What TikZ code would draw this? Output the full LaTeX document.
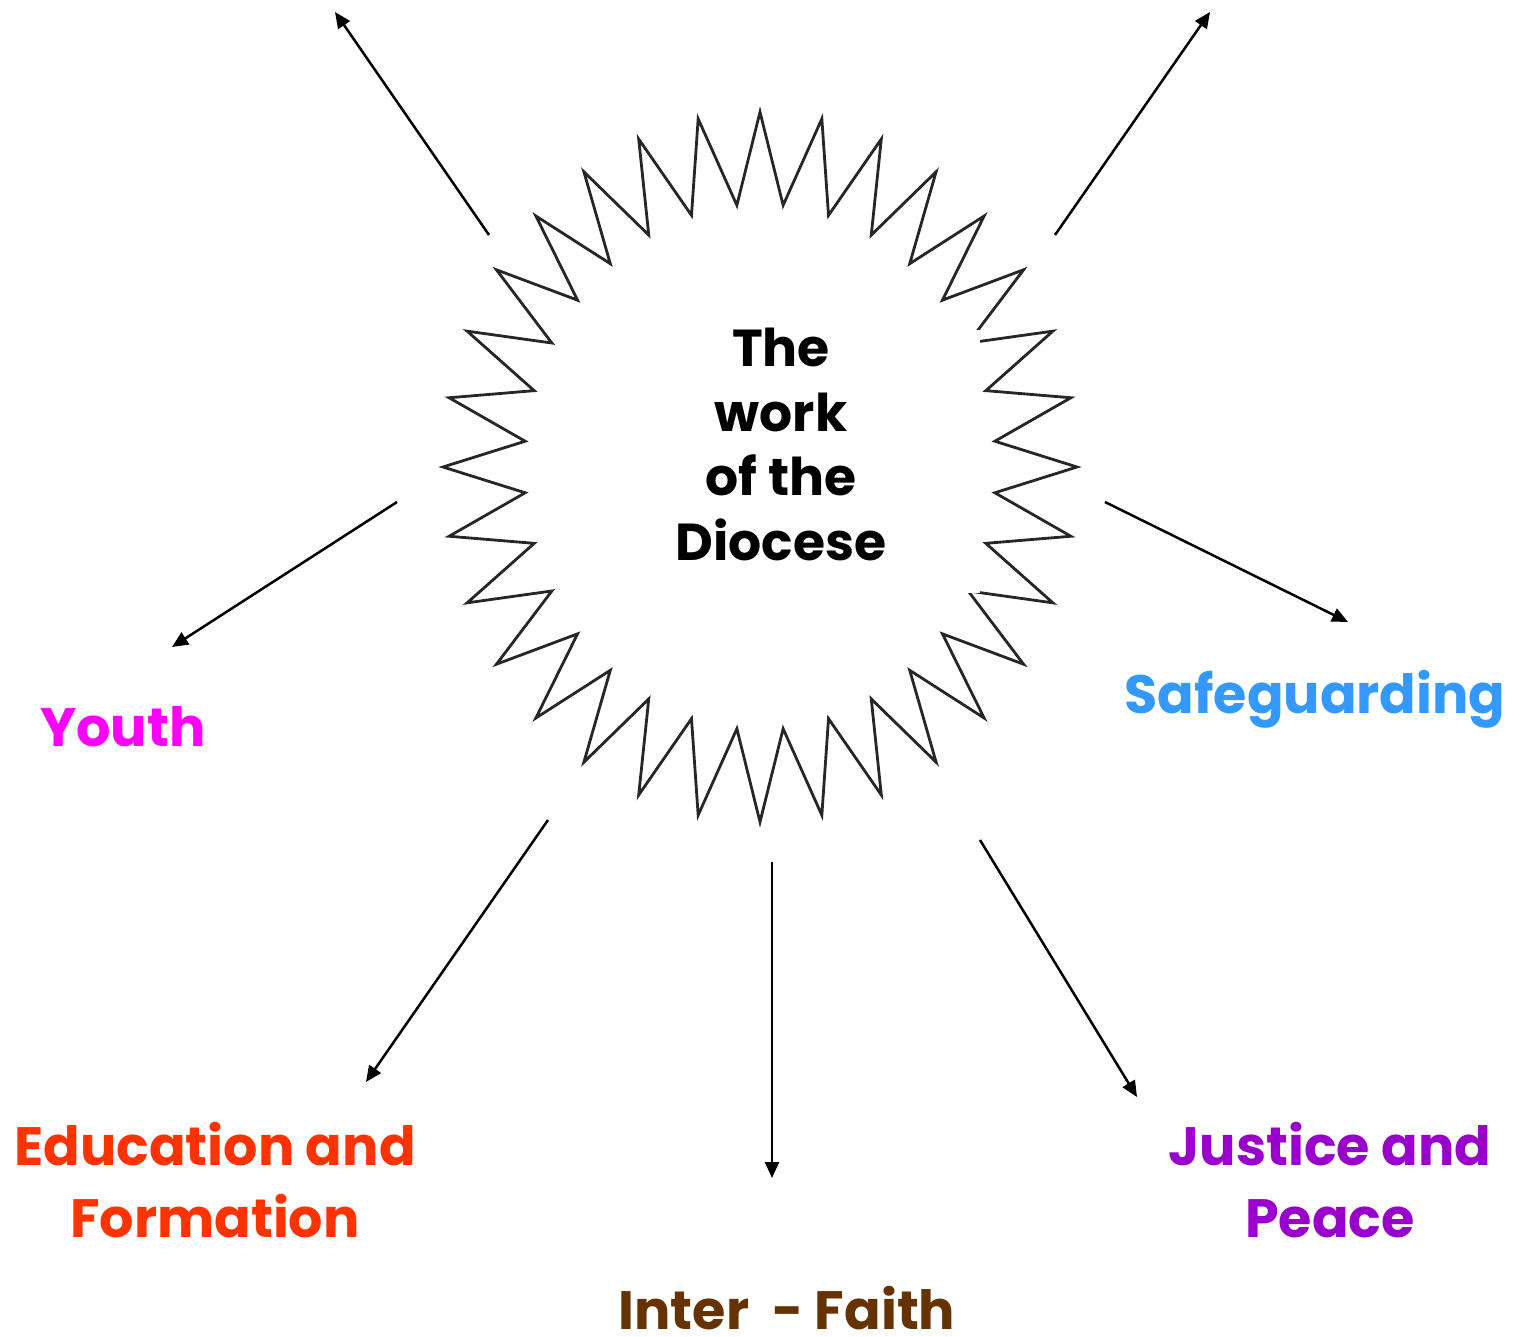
\documentclass[tikz,border=0pt]{standalone}
\usepackage{fontspec}
\setmainfont{Poppins}
\usetikzlibrary{arrows.meta}
\definecolor{cyouth}{HTML}{FF00FF}
\definecolor{csafe}{HTML}{3399FF}
\definecolor{cedu}{HTML}{FF3300}
\definecolor{cjust}{HTML}{9900CC}
\definecolor{cinter}{HTML}{663300}
\tikzset{
  lbl/.style={anchor=base, align=center, inner sep=0pt, font=\bfseries\fontsize{54}{72}\selectfont},
  ctr/.style={anchor=base, align=center, inner sep=0pt, font=\bfseries\fontsize{52}{64.5}\selectfont},
  arr/.style={line width=2.5pt, -{Triangle[length=16pt,width=14pt]}},
  starline/.style={line width=2.8pt, draw=black!85, line join=miter}
}
\begin{document}
\begin{tikzpicture}[x=1pt,y=-1pt]
\useasboundingbox (0,0) rectangle (1522,1337);
% starburst
\draw[starline] (760,112) \foreach \i in {0,...,31} {
  -- ({760+236*sin(\i*11.25+5.625)},{467-263*cos(\i*11.25+5.625)})
  -- ({760+317*sin((\i+1)*11.25)},{467-355*cos((\i+1)*11.25)}) } -- cycle;
\fill[white] (580,330) rectangle (980,593);
\node[ctr] (centre) at (781,560) {The\\work\\of the\\Diocese};
% arrow ends
\coordinate (s1) at (489,235); \coordinate (e1) at (335,12);
\coordinate (s2) at (1055,235); \coordinate (e2) at (1210,12);
\coordinate (s3) at (397,502); \coordinate (e3) at (172,647);
\coordinate (s4) at (1105,502); \coordinate (e4) at (1348,622);
\coordinate (s5) at (548,820); \coordinate (e5) at (366,1082);
\coordinate (s6) at (772,862); \coordinate (e6) at (772,1178);
\coordinate (s7) at (980,840); \coordinate (e7) at (1137,1097);
\foreach \k in {1,...,7} { \draw[arr] (s\k) -- (e\k); }
% labels
\node[lbl, text=cyouth] (youth) at (123,746) {Youth};
\node[lbl, text=csafe] (safe) at (1315,713) {Safeguarding};
\node[lbl, text=cedu] (edu) at (215,1237) {Education and\\Formation};
\node[lbl, text=cjust] (just) at (1330,1237) {Justice and\\Peace};
\node[lbl, text=cinter, text depth=0pt] (inter) at (787,1329) {Inter\ \ - Faith};
\end{tikzpicture}
\end{document}
